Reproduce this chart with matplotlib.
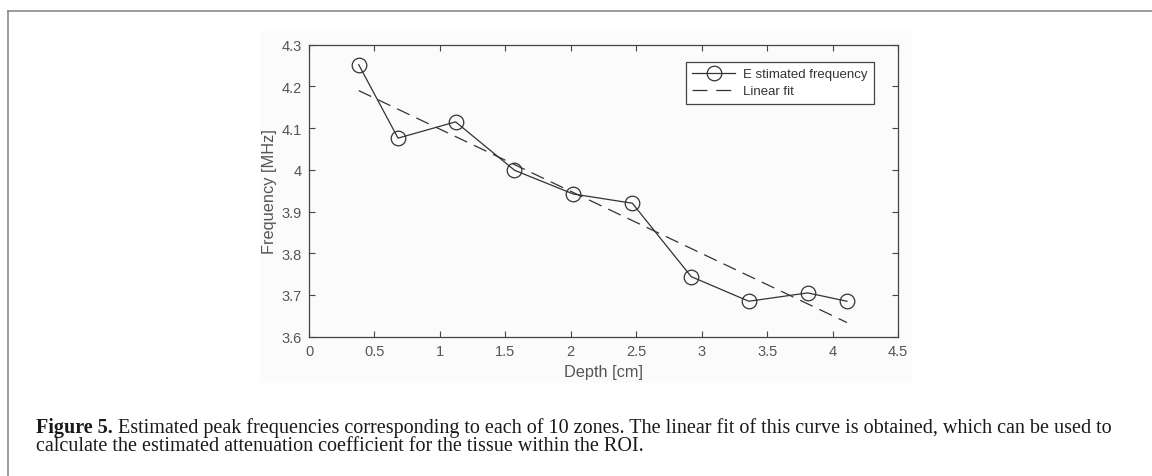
import matplotlib.pyplot as plt
from matplotlib.lines import Line2D
from matplotlib.patches import Rectangle

# peak frequency per zone
depth = [0.38, 0.68, 1.12, 1.57, 2.02, 2.47, 2.92, 3.36, 3.81, 4.11]
freq = [4.252, 4.076, 4.115, 3.999, 3.942, 3.920, 3.744, 3.685, 3.705, 3.685]

# end points of the linear fit
fit_depth = [0.38, 4.11]
fit_freq = [4.190, 3.634]

xticks = [0, 0.5, 1, 1.5, 2, 2.5, 3, 3.5, 4, 4.5]
yticks = [3.6, 3.7, 3.8, 3.9, 4.0, 4.1, 4.2, 4.3]
ytick_labels = ['3.6', '3.7', '3.8', '3.9', '4', '4.1', '4.2', '4.3']

caption_bold = 'Figure 5.'
caption_line1 = (' Estimated peak frequencies corresponding to each of 10 zones. '
                 'The linear fit of this curve is obtained, which can be used to')
caption_line2 = 'calculate the estimated attenuation coefficient for the tissue within the ROI.'

plt.rcParams['font.family'] = ['Liberation Sans', 'DejaVu Sans']

W, H = 1152, 477
fig = plt.figure(figsize=(W / 100, H / 100), dpi=100)

# page frame (top and left rules)
fig.add_artist(Line2D([8 / W, 1], [1 - 11.5 / H] * 2, color='#8a8a8a', lw=1.2))
fig.add_artist(Line2D([8 / W] * 2, [0, 1 - 11.5 / H], color='#8a8a8a', lw=1.2))

# very light backing of the embedded plot
fig.add_artist(Rectangle((260 / W, 1 - 384 / H), 652 / W, 352 / H,
                         transform=fig.transFigure, facecolor='#fbfbfb',
                         edgecolor='none', zorder=0))

ax = fig.add_axes([309 / W, 1 - 337.7 / H, 589 / W, 292 / H])
ax.set_facecolor('none')

ax.plot(depth, freq, '-o', color='#333333', lw=0.9, ms=10.5, mfc='none', mew=0.9,
        label='E stimated frequency')
ax.plot(fit_depth, fit_freq, '--', color='#333333', lw=0.9, dashes=(11, 6),
        label='Linear fit')

ax.set_xlim(0, 4.5)
ax.set_ylim(3.6, 4.3)
ax.set_xticks(xticks)
ax.set_xticklabels([f'{t:g}' for t in xticks])
ax.set_yticks(yticks)
ax.set_yticklabels(ytick_labels)
ax.tick_params(direction='in', length=4, width=0.8, colors='#444444',
               labelcolor='#555555', labelsize=10.5, top=True, right=True, pad=5)
for s in ax.spines.values():
    s.set_color('#444444')
    s.set_linewidth(0.9)

ax.set_xlabel('Depth [cm]', color='#555555', fontsize=11.8)
ax.set_ylabel('Frequency [MHz]', color='#555555', fontsize=11.8)
ax.xaxis.set_label_coords(0.5, -0.093)
ax.yaxis.set_label_coords(-0.054, 0.5)

leg = ax.legend(loc='upper right', fontsize=9.5, fancybox=False, framealpha=1,
                edgecolor='#444444', borderpad=0.48, handlelength=3.2,
                handletextpad=0.65, labelspacing=0.37, borderaxespad=0,
                bbox_to_anchor=(0.9593, 0.9418))
leg.get_frame().set_linewidth(0.9)
leg.get_lines()[1].set_dashes((12, 7))  # two clean dashes in the key
for t in leg.get_texts():
    t.set_color('#333333')

# caption
y1 = 1 - 433 / H
y2 = 1 - 451 / H
tb = fig.text(36 / W, y1, caption_bold, fontsize=14.5, fontweight='bold',
              family='Liberation Serif', color='#1a1a1a', va='baseline')
fig.canvas.draw()
bb = tb.get_window_extent()
fig.text(bb.x1 / W, y1, caption_line1, fontsize=14.5, va='baseline',
         family='Liberation Serif', color='#1a1a1a')
fig.text(36 / W, y2, caption_line2, fontsize=14.5, va='baseline',
         family='Liberation Serif', color='#1a1a1a')

fig.savefig('out.png', dpi=100, facecolor='white')
